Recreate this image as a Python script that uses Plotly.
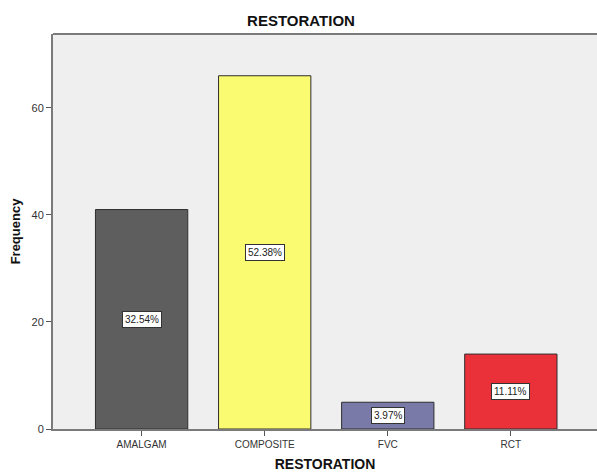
import plotly.graph_objects as go

categories = ["AMALGAM", "COMPOSITE", "FVC", "RCT"]
frequency = [41, 66, 5, 14]
percent_labels = ["32.54%", "52.38%", "3.97%", "11.11%"]
bar_colors = ["#5e5e5e", "#fbfb72", "#7a7aa8", "#ea3038"]

font_family = "Arial, Liberation Sans, sans-serif"

fig = go.Figure()
fig.add_trace(go.Bar(
    x=list(range(len(categories))),
    y=frequency,
    width=0.75,
    marker=dict(color=bar_colors, line=dict(color="#2e2e2e", width=1)),
    hoverinfo="skip",
))

# percentage boxes at the middle of each bar
for i, (v, lab) in enumerate(zip(frequency, percent_labels)):
    fig.add_annotation(
        x=i, y=v / 2, text=lab, showarrow=False,
        font=dict(family=font_family, size=10, color="#222222"),
        bgcolor="white", bordercolor="#333333", borderwidth=1, borderpad=2,
    )

fig.update_layout(
    width=597, height=473,
    margin=dict(l=53, r=0, t=34, b=44),
    paper_bgcolor="white",
    plot_bgcolor="#efefef",
    showlegend=False,
    font=dict(family=font_family, color="#333333"),
    title=dict(
        text="<b>RESTORATION</b>", x=301 / 597, xanchor="center",
        y=1 - 21 / 473, yanchor="middle",
        font=dict(family=font_family, size=15, color="#111111"),
    ),
    xaxis=dict(
        range=[-0.72, 3.70],
        tickmode="array", tickvals=list(range(len(categories))), ticktext=categories,
        ticks="outside", ticklen=5, tickcolor="#555555",
        tickfont=dict(size=10, color="#333333"),
        showline=True, linecolor="#7a7a7a", linewidth=2, mirror=False,
        showgrid=False, zeroline=False,
        title=dict(text="<b>RESTORATION</b>", standoff=10,
                   font=dict(size=14, color="#111111")),
    ),
    yaxis=dict(
        range=[0, 73.8],
        tickvals=[0, 20, 40, 60],
        ticks="outside", ticklen=5, tickcolor="#555555",
        tickfont=dict(size=11, color="#333333"),
        showline=True, linecolor="#7a7a7a", linewidth=2,
        showgrid=False, zeroline=False,
        title=dict(text="<b>Frequency</b>", standoff=8,
                   font=dict(size=13, color="#111111")),
    ),
)

# top border of the plot frame
fig.add_shape(type="line", xref="paper", yref="paper", x0=0, x1=1, y0=1, y1=1,
              line=dict(color="#7a7a7a", width=2))

fig.write_html("out.html")
